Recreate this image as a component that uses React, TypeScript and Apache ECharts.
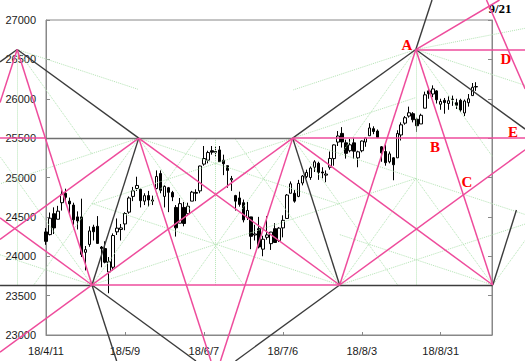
import React, { useEffect, useRef } from 'react';
import * as echarts from 'echarts';

// Trading days (index 0 = 18/4/11)
const dates = [
  '18/4/11','18/4/12','18/4/13','18/4/16','18/4/17','18/4/18','18/4/19','18/4/20','18/4/23','18/4/24',
  '18/4/25','18/4/26','18/4/27','18/4/30','18/5/1','18/5/2','18/5/3','18/5/4','18/5/7','18/5/8',
  '18/5/9','18/5/10','18/5/11','18/5/14','18/5/15','18/5/16','18/5/17','18/5/18','18/5/21','18/5/22',
  '18/5/23','18/5/24','18/5/25','18/5/29','18/5/30','18/5/31','18/6/1','18/6/4','18/6/5','18/6/6',
  '18/6/7','18/6/8','18/6/11','18/6/12','18/6/13','18/6/14','18/6/15','18/6/18','18/6/19','18/6/20',
  '18/6/21','18/6/22','18/6/25','18/6/26','18/6/27','18/6/28','18/6/29','18/7/2','18/7/3','18/7/5',
  '18/7/6','18/7/9','18/7/10','18/7/11','18/7/12','18/7/13','18/7/16','18/7/17','18/7/18','18/7/19',
  '18/7/20','18/7/23','18/7/24','18/7/25','18/7/26','18/7/27','18/7/30','18/7/31','18/8/1','18/8/2',
  '18/8/3','18/8/6','18/8/7','18/8/8','18/8/9','18/8/10','18/8/13','18/8/14','18/8/15','18/8/16',
  '18/8/17','18/8/20','18/8/21','18/8/22','18/8/23','18/8/24','18/8/27','18/8/28','18/8/29','18/8/30',
  '18/8/31','18/9/4','18/9/5','18/9/6','18/9/7','18/9/10','18/9/11','18/9/12','18/9/13','18/9/14',
];

const opens = [
  24309,24275,24540,24470,24680,24800,24700,24650,24500,24500,
  24050,24150,24370,24380,24117,24097,23800,23860,24310,24340,
  24410,24560,24760,24860,24850,24700,24770,24700,24860,25050,
  24760,24870,24810,24620,24420,24620,24540,24700,24810,24830,
  25170,25220,25340,25330,25350,25220,25150,24970,24770,24740,
  24680,24490,24500,24270,24350,24090,24240,24160,24350,24200,
  24360,24480,24800,24800,24760,24930,25010,25000,25130,25180,
  25070,25030,25130,25240,25450,25560,25440,25340,25440,25250,
  25340,25450,25530,25620,25590,25390,25330,25200,25250,25250,
  25540,25690,25780,25810,25740,25680,25880,26100,26060,26100,
  25930,25980,25940,25990,25950,25980,25820,25950,26040,26150,
];
const closes = [
  24189,24483,24360,24573,24787,24748,24665,24463,24449,24024,
  24084,24322,24311,24163,24099,23925,23930,24263,24357,24360,
  24543,24740,24831,24899,24706,24769,24714,24715,25013,24834,
  24887,24812,24753,24361,24668,24416,24635,24814,24800,25146,
  25241,25317,25322,25321,25201,25175,25090,24987,24700,24658,
  24462,24581,24253,24283,24118,24216,24271,24307,24175,24357,
  24456,24777,24920,24700,24925,25019,25064,25120,25199,25065,
  25058,25044,25242,25414,25527,25451,25307,25415,25334,25326,
  25463,25502,25629,25584,25509,25313,25188,25300,25162,25559,
  25669,25759,25822,25734,25657,25790,26050,26064,26125,25987,
  25965,25952,25975,25996,25917,25857,25971,25999,26146,26155,
];
const lows = [
  24145,24265,24282,24470,24580,24700,24535,24400,24340,23990,
  23820,24120,24200,24160,23860,23910,23530,23820,24270,24200,
  24330,24540,24700,24830,24620,24650,24630,24650,24850,24800,
  24620,24560,24700,24250,24420,24380,24520,24700,24700,24800,
  25150,25180,25290,25260,25200,25030,24870,24830,24580,24630,
  24430,24460,24090,24200,24100,24000,24210,24080,24170,24180,
  24240,24480,24800,24680,24750,24900,24990,24970,25070,24970,
  24990,24940,25100,25150,25400,25380,25240,25320,25240,25130,
  25320,25390,25530,25550,25500,25200,25150,25180,24965,25250,
  25470,25670,25760,25700,25580,25680,25880,26000,26020,25940,
  25860,25810,25860,25910,25870,25830,25780,25900,26040,26100,
];
const highs = [
  24358,24555,24621,24640,24858,24858,24745,24680,24570,24731,
  24130,24380,24400,24510,24130,24190,23990,24290,24480,24410,
  24560,24760,24880,25010,24860,24800,24830,24770,25090,25090,
  24900,24880,24830,24650,24740,24690,24680,24830,24850,25150,
  25400,25340,25400,25400,25400,25290,25150,25020,24780,24820,
  24720,24690,24500,24400,24500,24260,24510,24310,24420,24370,
  24520,24790,24950,24840,24970,25030,25100,25140,25220,25200,
  25130,25090,25330,25420,25590,25640,25480,25490,25500,25340,
  25470,25510,25690,25650,25610,25400,25420,25330,25260,25600,
  25700,25780,25900,25830,25760,25810,26090,26140,26170,26110,
  26000,26010,26030,26040,26000,26000,25990,26060,26200,26210,
];

// Axis ranges
const yMin = 23000;
const yMax = 27000;
const yStep = 500;
const xMax = 113;
const xStep = 20;

// Pivot points of the drawn analysis: [trading-day index, price]
type Pt = [number, number];
const LT: Pt = [-7.3, 26625];
const V1: Pt = [11.65, 23635];
const V2: Pt = [23.5, 25500];
const V3: Pt = [62.5, 25500];
const V4: Pt = [74.4, 23635];
const PA: Pt = [93.7, 26625];
const V5: Pt = [113.2, 23635];

const blackSegs: Pt[][] = [
  [[-11.65, 26468], LT], [LT, V2], [V1, V2], [V1, [17.9, 22670]], [V1, [38, 22670]],
  [[48, 22670], V4], [V3, V4], [V3, PA], [PA, [121.4, 25615]], [PA, [97.8, 27254]],
  [V5, [119.2, 24587]], [[-11.65, 23635], V1], [V4, V5],
];
const graySegs: Pt[][] = [[[0, 25500], V3]];
const pinkSegs: Pt[][] = [
  [LT, V1], [LT, [-11.65, 25951]], [[-11.65, 25500], [0, 25500]],
  [[-11.65, 24488], V1], [[-11.65, 24213], V2], [V2, [41.8, 22670]], [V2, V4],
  [[-11.65, 22782], V3], [V3, [44.2, 22670]], [V3, V5], [V1, V4], [V3, [121.4, 25500]],
  [V4, PA], [PA, V5], [V4, [121.4, 25352]], [PA, [114.9, 27254]], [PA, [121.4, 26625]],
  [[111.6, 27254], [121.4, 26124]],
];
const greenSegs: Pt[][] = [
  [V1, [93.7, 24988]], [V1, [38.3, 25500]], [V1, [-11.65, 24019]], [V1, [-11.65, 25266]],
  [V2, [74.4, 24660]], [V2, [50.1, 23635]], [V2, [-11.65, 24920]], [V2, [-3.1, 23635]],
  [V3, [121.4, 24530]], [V3, [11.65, 24661]], [V3, [89.1, 23635]], [V3, [35.9, 23635]],
  [V3, [93.7, 26015]], [V4, [11.65, 24670]], [V4, [47.8, 25500]], [V4, [93.7, 24986]],
  [V4, [121.4, 24409]], [V5, [93.7, 24986]], [V5, [74.4, 24275]], [V5, [121.4, 24202]],
  [PA, [93.7, 23635]], [PA, [62.5, 26110]], [PA, [121.4, 26170]], [PA, [74.4, 25274]],
  [PA, [113.2, 25260]], [PA, [121.4, 26895]], [LT, [-7.3, 23635]], [LT, [23.5, 26117]],
  [LT, [11.65, 25298]], [[43, 25500], [43, 23635]],
];

const PINK = '#ee4c9c';
const DARK = '#3c3c3c';
const GRID = '#888888';
const GREEN = '#b4e4b4';

export default function App() {
  const ref = useRef<HTMLDivElement>(null);
  useEffect(() => {
    if (!ref.current) return;
    const chart = echarts.init(ref.current, undefined, { renderer: 'svg' });
    const candles = dates.map((_, i) => [i, opens[i], closes[i], lows[i], highs[i]]);
    const segSeries = (segs: Pt[][], color: string, width: number, type: string, z: number) => ({
      type: 'lines',
      coordinateSystem: 'cartesian2d',
      polyline: false,
      clip: false,
      silent: true,
      z,
      lineStyle: { color, width, opacity: 1, type, curveness: 0 },
      data: segs.map((s) => ({ coords: s })),
    });
    const axisLabelFont = { fontFamily: 'Liberation Sans', fontSize: 11, color: '#1a1a1a' };
    chart.setOption({
      animation: false,
      grid: { left: 46, right: 33, top: 20, bottom: 26, show: true, borderColor: GRID, borderWidth: 1 },
      xAxis: {
        type: 'value', min: 0, max: xMax, interval: xStep,
        axisLine: { show: true, lineStyle: { color: GRID } },
        axisTick: { show: true, inside: true, length: 3, lineStyle: { color: GRID } },
        splitLine: { show: false },
        axisLabel: {
          ...axisLabelFont, margin: 10,
          formatter: (v: number) => (v % xStep === 0 && dates[v] ? dates[v] : ''),
        },
      },
      yAxis: [
        {
          type: 'value', min: yMin, max: yMax, interval: yStep,
          axisLine: { show: true, lineStyle: { color: GRID } },
          axisTick: { show: true, inside: true, length: 4, lineStyle: { color: GRID } },
          splitLine: { show: false },
          axisLabel: { ...axisLabelFont, margin: 10, formatter: (v: number) => String(v) },
        },
        {
          type: 'value', position: 'right', min: yMin, max: yMax, interval: yStep,
          axisLine: { show: true, lineStyle: { color: GRID } },
          axisTick: { show: true, inside: true, length: 4, lineStyle: { color: GRID } },
          splitLine: { show: false },
          axisLabel: { show: false },
        },
      ],
      series: [
        {
          type: 'candlestick',
          data: candles,
          encode: { x: 0, y: [1, 2, 3, 4] },
          barWidth: 3,
          z: 2,
          itemStyle: { color: '#ffffff', color0: '#000000', borderColor: '#000000', borderColor0: '#000000', borderWidth: 1 },
        },
        segSeries(greenSegs, GREEN, 1, 'dotted', 3),
        segSeries(graySegs, '#707070', 1.3, 'solid', 4),
        segSeries(blackSegs, DARK, 1.4, 'solid', 4),
        segSeries(pinkSegs, PINK, 1.5, 'solid', 5),
      ],
      graphic: [
        { type: 'text', x: 407, y: 45, style: { text: 'A', fill: '#ff0000', font: 'bold 15px "Liberation Serif"', textAlign: 'center', textVerticalAlign: 'middle' } },
        { type: 'text', x: 435, y: 147, style: { text: 'B', fill: '#ff0000', font: 'bold 15px "Liberation Serif"', textAlign: 'center', textVerticalAlign: 'middle' } },
        { type: 'text', x: 467, y: 182, style: { text: 'C', fill: '#ff0000', font: 'bold 15px "Liberation Serif"', textAlign: 'center', textVerticalAlign: 'middle' } },
        { type: 'text', x: 506, y: 59, style: { text: 'D', fill: '#ff0000', font: 'bold 15px "Liberation Serif"', textAlign: 'center', textVerticalAlign: 'middle' } },
        { type: 'text', x: 513, y: 132, style: { text: 'E', fill: '#ff0000', font: 'bold 15px "Liberation Serif"', textAlign: 'center', textVerticalAlign: 'middle' } },
        { type: 'text', x: 500, y: 8, style: { text: '9/21', fill: '#000000', font: 'bold 13px "Liberation Serif"', textAlign: 'center', textVerticalAlign: 'middle' } },
      ],
    });
    return () => chart.dispose();
  }, []);
  return <div ref={ref} style={{ position: 'fixed', left: 0, top: 0, width: 525, height: 361, background: '#fff' }} />;
}
